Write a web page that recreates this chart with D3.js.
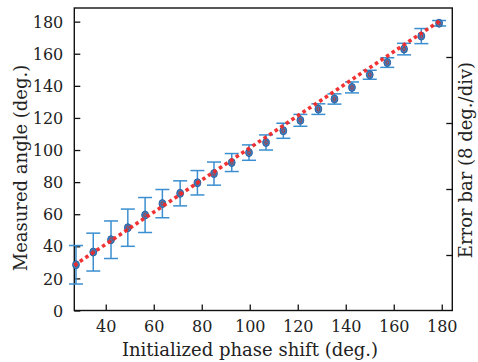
<!DOCTYPE html>
<html lang="en">
<head>
    <meta charset="utf-8">
    <title>Measured angle</title>
    <script src="https://d3js.org/d3.v7.min.js" charset="utf-8"></script>
    <style>
        body { margin: 0; background: #fff; }
        text { font-family: "DejaVu Serif", serif; fill: #222; }
    </style>
</head>
<body>

    <script>

    // readings
    var phaseShift = [27.6, 34.8, 42.2, 49.2, 56.4, 63.6, 71.0, 78.2, 85.1, 92.5, 99.7, 106.8, 114.0, 121.1, 128.6, 135.3, 142.6, 150.0, 157.3, 164.3, 171.5, 178.9]
    var measured   = [28.5, 36.4, 44.1, 51.6, 59.5, 66.6, 73.0, 79.6, 85.3, 92.2, 98.4, 104.7, 112.0, 118.5, 125.5, 131.8, 139.0, 146.9, 154.5, 162.9, 171.0, 179.0]
    var errorBar   = [12.0, 11.8, 11.7, 11.6, 10.9, 8.8, 7.8, 7.6, 7.2, 5.6, 4.8, 4.7, 4.7, 3.7, 3.3, 3.2, 3.4, 2.8, 3.0, 3.6, 4.7, 1.7]
    var fitX = [26.9, 179.8]
    var fitY = [28.2, 181.1]
    var xTicks = [40, 60, 80, 100, 120, 140, 160, 180]
    var yTicks = [0, 20, 40, 60, 80, 100, 120, 140, 160, 180]
    var errTicks = [8, 16, 24, 32]

    var W = 478, H = 362
    var pLeft = 74.3, pRight = 452.3, pTop = 8, pBottom = 310.5

    var svg = d3.select("body").append("svg").attr("width", W).attr("height", H)

    var x = d3.scaleLinear().domain([26.9, 184.4]).range([pLeft, pRight])
    var y = d3.scaleLinear().domain([0, 188.5]).range([pBottom, pTop])
    // right axis, only ticks
    var yErr = d3.scaleLinear().domain([8, 32]).range([255, 57])

    // axes with inward ticks
    var xAxis = d3.axisBottom(x).tickValues(xTicks).tickSizeInner(-6).tickSizeOuter(0).tickPadding(10)
    var gx = svg.append("g").attr("transform", "translate(0," + pBottom + ")").call(xAxis)
    var yAxis = d3.axisLeft(y).tickValues(yTicks).tickSizeInner(-6).tickSizeOuter(0).tickPadding(11)
    var gy = svg.append("g").attr("transform", "translate(" + pLeft + ",0)").call(yAxis)
    var rAxis = d3.axisRight(yErr).tickValues(errTicks).tickSizeInner(-6).tickSizeOuter(0).tickFormat("")
    var gr = svg.append("g").attr("transform", "translate(" + pRight + ",0)").call(rAxis)

    svg.selectAll(".domain").remove()
    svg.selectAll(".tick line").attr("stroke", "#111").attr("stroke-width", 1.3)
    gx.selectAll("text").style("font-size", "16px").style("font-family", "DejaVu Serif").attr("fill", "#222")
    gy.selectAll("text").style("font-size", "16px").style("font-family", "DejaVu Serif").attr("fill", "#222").attr("dy", "0.35em")

    // frame
    svg.append("rect").attr("x", pLeft).attr("y", pTop).attr("width", pRight - pLeft).attr("height", pBottom - pTop)
        .attr("fill", "none").attr("stroke", "#111").attr("stroke-width", 1.4)

    var pts = phaseShift.map(function(d, i) { return {x: d, y: measured[i], e: errorBar[i]} })
    var cap = 7

    // error bars
    var eb = svg.append("g").attr("stroke", "#3b8fd0").attr("stroke-width", 1.5)
    eb.selectAll(".v").data(pts).enter().append("line")
        .attr("x1", function(d){return x(d.x)}).attr("x2", function(d){return x(d.x)})
        .attr("y1", function(d){return y(d.y + d.e)}).attr("y2", function(d){return y(d.y - d.e)})
    eb.selectAll(".t").data(pts).enter().append("line")
        .attr("x1", function(d){return x(d.x) - cap}).attr("x2", function(d){return x(d.x) + cap})
        .attr("y1", function(d){return y(d.y + d.e)}).attr("y2", function(d){return y(d.y + d.e)})
    eb.selectAll(".b").data(pts).enter().append("line")
        .attr("x1", function(d){return x(d.x) - cap}).attr("x2", function(d){return x(d.x) + cap})
        .attr("y1", function(d){return y(d.y - d.e)}).attr("y2", function(d){return y(d.y - d.e)})

    // points
    svg.append("g").selectAll("ellipse").data(pts).enter().append("ellipse")
        .attr("cx", function(d){return x(d.x)}).attr("cy", function(d){return y(d.y)})
        .attr("rx", 3.4).attr("ry", 4)
        .attr("fill", "#3f7fc0").attr("stroke", "#2b62a0").attr("stroke-width", 1)
    svg.append("g").selectAll("ellipse").data(pts).enter().append("ellipse")
        .attr("cx", function(d){return x(d.x)}).attr("cy", function(d){return y(d.y)})
        .attr("rx", 1.3).attr("ry", 1.9)
        .attr("fill", "none").attr("stroke", "#b03a3a").attr("stroke-width", 1)

    // fit line
    var line = d3.line().x(function(d){return x(d[0])}).y(function(d){return y(d[1])})
    svg.append("path").datum(d3.zip(fitX, fitY)).attr("d", line)
        .attr("fill", "none").attr("stroke", "#f02828").attr("stroke-width", 3.6)
        .attr("stroke-dasharray", "3.5,3.2").attr("stroke-linecap", "butt").attr("opacity", 0.95)

    // titles
    svg.append("text").attr("x", 250).attr("y", 356).attr("text-anchor", "middle")
        .style("font-size", "18px").text("Initialized phase shift (deg.)")
    svg.append("text").attr("transform", "translate(27,168) rotate(-90)").attr("text-anchor", "middle")
        .style("font-size", "18px").text("Measured angle (deg.)")
    svg.append("text").attr("transform", "translate(472,160) rotate(-90)").attr("text-anchor", "middle")
        .style("font-size", "18px").text("Error bar (8 deg./div)")

    </script>

</body>
</html>
